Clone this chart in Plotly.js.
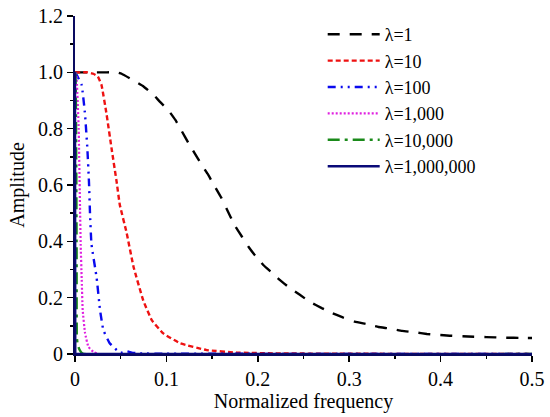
<!DOCTYPE html>
<html>
<head>
<meta charset="utf-8">
<script src="https://cdn.plot.ly/plotly-3.0.1.min.js"></script>
<style>html,body{margin:0;padding:0;background:#fff;}#chart{width:550px;height:417px;}</style>
</head>
<body>
<div id="chart"></div>
<script>
// Series values
const seriesNames = ["λ=1", "λ=10", "λ=100", "λ=1,000", "λ=10,000", "λ=1,000,000"];

const f1 = [0, 0.02, 0.035, 0.046, 0.051, 0.062, 0.075, 0.086, 0.093, 0.102, 0.110, 0.117, 0.124, 0.131, 0.138, 0.145, 0.152, 0.160, 0.166, 0.175, 0.183, 0.190, 0.197, 0.206, 0.215, 0.224, 0.235, 0.246, 0.257, 0.270, 0.281, 0.293, 0.306, 0.319, 0.332, 0.345, 0.358, 0.372, 0.385, 0.397, 0.410, 0.430, 0.450, 0.470, 0.490, 0.500];
const a1 = [1.000, 1.000, 1.000, 1.000, 0.995, 0.975, 0.950, 0.920, 0.895, 0.866, 0.830, 0.790, 0.750, 0.712, 0.675, 0.640, 0.600, 0.555, 0.515, 0.455, 0.415, 0.380, 0.350, 0.316, 0.290, 0.263, 0.234, 0.210, 0.185, 0.163, 0.146, 0.130, 0.115, 0.106, 0.096, 0.090, 0.082, 0.077, 0.071, 0.068, 0.065, 0.062, 0.060, 0.058, 0.057, 0.057];

const f10 = [0, 0.009, 0.014, 0.020, 0.025, 0.029, 0.0346, 0.040, 0.0456, 0.049, 0.0565, 0.064, 0.0747, 0.084, 0.0966, 0.115, 0.144, 0.177, 0.22, 0.30, 0.40, 0.50];
const a10 = [1.000, 1.000, 1.000, 0.995, 0.985, 0.955, 0.850, 0.730, 0.610, 0.530, 0.430, 0.310, 0.190, 0.120, 0.073, 0.038, 0.014, 0.005, 0.002, 0.001, 0.000, 0.000];

const f100 = [0, 0.002, 0.0073, 0.011, 0.0135, 0.0153, 0.0164, 0.018, 0.0237, 0.0274, 0.031, 0.038, 0.0456, 0.050, 0.056, 0.062, 0.070, 0.10, 0.50];
const a100 = [1.000, 0.990, 0.955, 0.850, 0.730, 0.610, 0.500, 0.390, 0.270, 0.156, 0.085, 0.038, 0.014, 0.004, 0.010, 0.005, 0.002, 0.001, 0.000];

const f1000 = [0, 0.0015, 0.004, 0.0055, 0.0062, 0.0073, 0.0084, 0.011, 0.0146, 0.020, 0.025, 0.50];
const a1000 = [1.000, 0.990, 0.800, 0.520, 0.390, 0.270, 0.156, 0.074, 0.026, 0.008, 0.000, 0.000];

const f10000 = [0, 0.0005, 0.001, 0.0015, 0.0018, 0.0020, 0.0030, 0.0050, 0.0073, 0.0095, 0.50];
const a10000 = [1.000, 0.990, 0.900, 0.600, 0.350, 0.060, 0.032, 0.015, 0.004, 0.000, 0.000];

const f1e6 = [0, 0.0001, 0.0003, 0.50];
const a1e6 = [1.000, 0.500, 0.000, 0.000];

// Tick labels
const xTickVals = [0, 0.1, 0.2, 0.3, 0.4, 0.5];
const xTickText = ["0", "0.1", "0.2", "0.3", "0.4", "0.5"];
const yTickVals = [0, 0.2, 0.4, 0.6, 0.8, 1.0, 1.2];
const yTickText = ["0", "0.2", "0.4", "0.6", "0.8", "1.0", "1.2"];
const xMinor = [0.05, 0.15, 0.25, 0.35, 0.45];
const yMinor = [0.1, 0.3, 0.5, 0.7, 0.9, 1.1];

const xs = [f1, f10, f100, f1000, f10000, f1e6];
const ys = [a1, a10, a100, a1000, a10000, a1e6];
const colors = ["#000000", "#ee1111", "#0a0aee", "#e020e0", "#1a8a1a", "#0a0a78"];
const dashes = ["12px,10px", "5px,3px", "8px,5px,2px,5px,2px,5px", "2px,2px", "12px,5px,3px,5px", "solid"];
const widths = [2.4, 2.4, 2.4, 2.2, 2.4, 2.4];

const traces = seriesNames.map((name, i) => ({
  x: xs[i], y: ys[i], name: name, type: "scatter", mode: "lines",
  line: {color: colors[i], dash: dashes[i], width: widths[i], shape: "spline", smoothing: 0.3},
  legendgroup: "g" + i,
  cliponaxis: false
}));
traces[5].line.shape = "linear";

const fam = "Times New Roman";
const font = {family: fam, size: 20, color: "#000"};

const layout = {
  width: 550, height: 417,
  margin: {l: 75, r: 18, t: 16, b: 63},
  paper_bgcolor: "#fff", plot_bgcolor: "#fff",
  font: font,
  showlegend: true,
  legend: {
    x: 0.542, y: 1.0, xanchor: "left", yanchor: "top",
    bgcolor: "rgba(0,0,0,0)", borderwidth: 0,
    font: {family: fam, size: 18, color: "#000"},
    tracegroupgap: 0,
    itemwidth: 52
  },
  xaxis: {
    range: [0, 0.5], showgrid: false, zeroline: false,
    showline: true, linecolor: "#0a0a60", linewidth: 2,
    ticks: "outside", ticklen: 6, tickwidth: 1.5, tickcolor: "#000",
    tickmode: "array", tickvals: xTickVals, ticktext: xTickText,
    minor: {tickmode: "array", tickvals: xMinor, ticks: "outside", ticklen: 3, tickwidth: 1.5, tickcolor: "#000", showgrid: false},
    tickfont: font,
    title: {text: "Normalized frequency", font: font, standoff: 2}
  },
  yaxis: {
    range: [0, 1.2], showgrid: false, zeroline: false,
    showline: true, linecolor: "#0a0a60", linewidth: 2,
    ticks: "outside", ticklen: 6, tickwidth: 1.5, tickcolor: "#000",
    tickmode: "array", tickvals: yTickVals, ticktext: yTickText,
    minor: {tickmode: "array", tickvals: yMinor, ticks: "outside", ticklen: 3, tickwidth: 1.5, tickcolor: "#000", showgrid: false},
    tickfont: font,
    title: {text: "Amplitude", font: font, standoff: 8}
  }
};

Plotly.newPlot("chart", traces, layout, {displayModeBar: false, staticPlot: true});
</script>
</body>
</html>
